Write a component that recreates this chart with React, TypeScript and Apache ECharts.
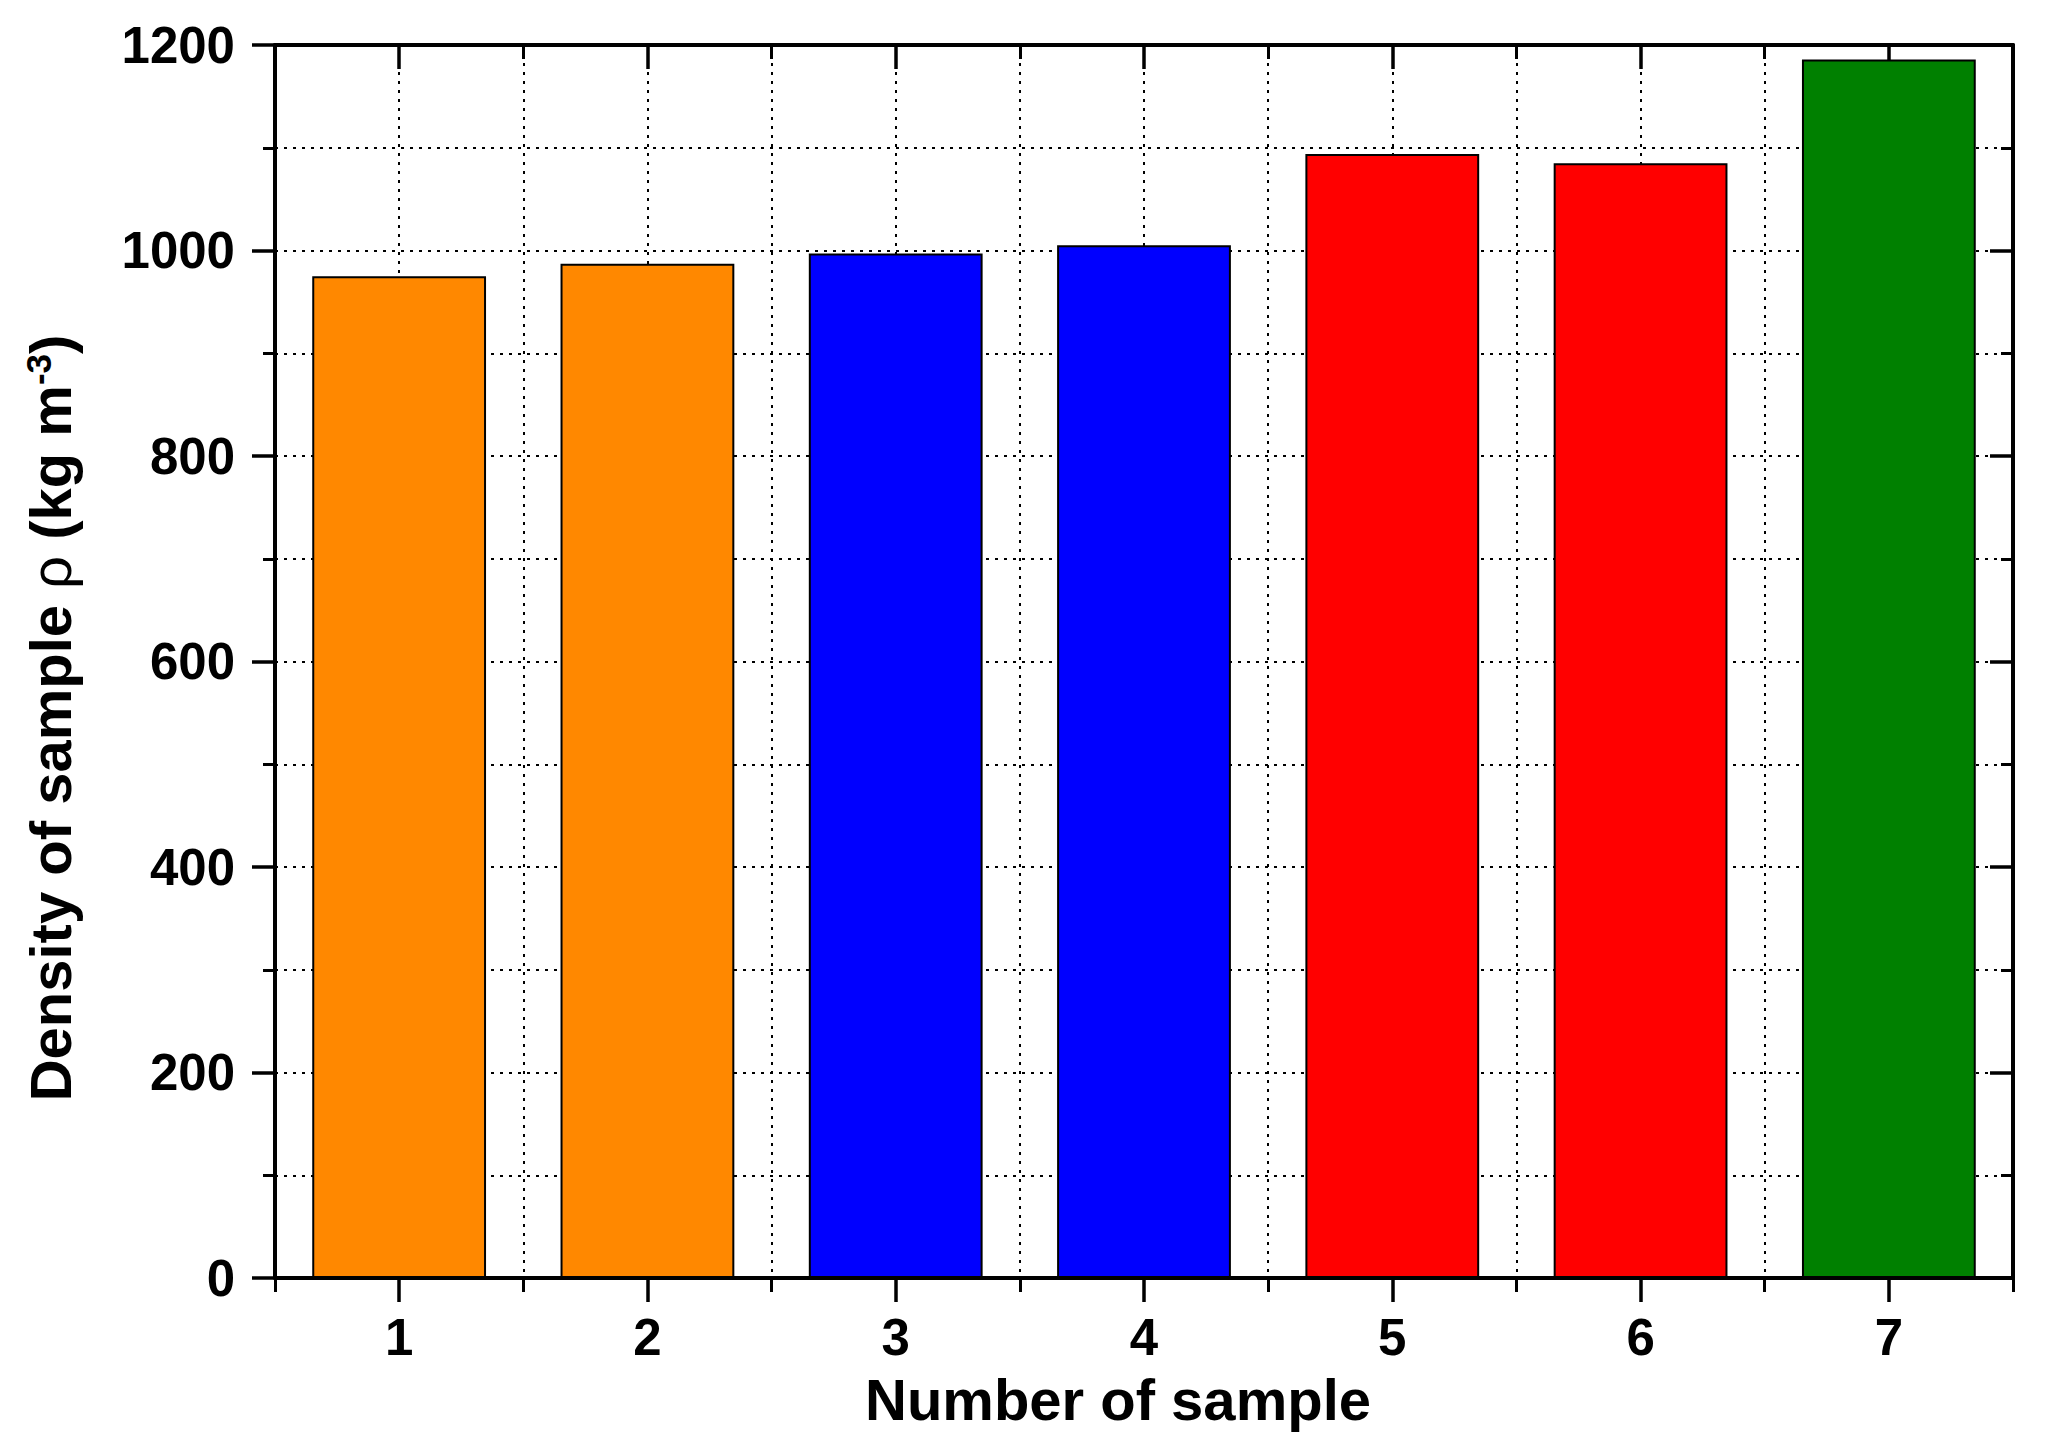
import React, { useEffect, useRef } from "react";
import * as echarts from "echarts";

const categories = ["1", "2", "3", "4", "5", "6", "7"];
const densities = [975, 987, 997, 1005, 1094, 1085, 1186];
const barColors = ["#FF8800", "#FF8800", "#0000FF", "#0000FF", "#FF0000", "#FF0000", "#008000"];
const yMin = 0;
const yMax = 1200;
const yInterval = 200;
const xTitle = "Number of sample";

const FONT = "'Liberation Sans', Arial, sans-serif";
const dotted = { color: "#000", width: 2, type: [3, 6] as any };

export default function App() {
  const ref = useRef<HTMLDivElement>(null);
  useEffect(() => {
    if (!ref.current) return;
    const chart = echarts.init(ref.current, undefined, { renderer: "svg" });
    const catAxisBase = {
      type: "category",
      data: categories,
      boundaryGap: true,
      axisLabel: { show: false },
      splitLine: { show: false },
    };
    chart.setOption({
      animation: false,
      backgroundColor: "#fff",
      grid: { left: 275, right: 35, top: 45, bottom: 173, containLabel: false },
      xAxis: [
        {
          ...catAxisBase,
          position: "bottom",
          name: xTitle,
          nameLocation: "middle",
          nameGap: 92,
          nameTextStyle: {
            fontFamily: FONT,
            fontWeight: "bold",
            fontSize: 58,
            color: "#000",
            padding: [0, 52, 0, 0],
          },
          axisLine: { show: true, lineStyle: { color: "#000", width: 4 } },
          axisTick: { show: true, alignWithLabel: true, length: 24, lineStyle: { color: "#000", width: 3.5 } },
          axisLabel: { show: true, fontFamily: FONT, fontWeight: "bold", fontSize: 51, color: "#000", margin: 34 },
        },
        {
          ...catAxisBase,
          position: "bottom",
          axisLine: { show: false },
          axisTick: { show: true, alignWithLabel: false, length: 14, lineStyle: { color: "#000", width: 3 } },
        },
        {
          ...catAxisBase,
          position: "top",
          axisLine: { show: true, lineStyle: { color: "#000", width: 4 } },
          axisTick: { show: true, inside: true, alignWithLabel: true, length: 24, lineStyle: { color: "#000", width: 3.5 } },
        },
        {
          ...catAxisBase,
          position: "top",
          axisLine: { show: false },
          axisTick: { show: true, inside: true, alignWithLabel: false, length: 14, lineStyle: { color: "#000", width: 3 } },
        },
        {
          type: "value",
          position: "bottom",
          min: 0,
          max: categories.length * 2,
          interval: 1,
          axisLine: { show: false },
          axisTick: { show: false },
          axisLabel: { show: false },
          splitLine: { show: true, lineStyle: dotted },
        },
      ],
      yAxis: [
        {
          type: "value",
          position: "left",
          min: yMin,
          max: yMax,
          interval: yInterval,
          axisLine: { show: true, lineStyle: { color: "#000", width: 4 } },
          axisTick: { show: true, length: 23, lineStyle: { color: "#000", width: 3.5 } },
          minorTick: { show: true, splitNumber: 2, length: 12, lineStyle: { color: "#000", width: 3 } },
          axisLabel: {
            show: true,
            fontFamily: FONT,
            fontWeight: "bold",
            fontSize: 51,
            color: "#000",
            margin: 40,
            formatter: (v: number) => String(v),
          },
          splitLine: { show: true, lineStyle: dotted },
          minorSplitLine: { show: true, lineStyle: dotted },
        },
        {
          type: "value",
          position: "right",
          min: yMin,
          max: yMax,
          interval: yInterval,
          axisLine: { show: true, lineStyle: { color: "#000", width: 4 } },
          axisTick: { show: true, inside: true, length: 23, lineStyle: { color: "#000", width: 3.5 } },
          minorTick: { show: true, splitNumber: 2, length: 12, lineStyle: { color: "#000", width: 3 } },
          axisLabel: { show: false },
          splitLine: { show: false },
        },
      ],
      series: [
        {
          type: "bar",
          xAxisIndex: 0,
          yAxisIndex: 0,
          barCategoryGap: "30%",
          data: densities.map((v, i) => ({
            value: v,
            itemStyle: { color: barColors[i], borderColor: "#000", borderWidth: 2 },
          })),
        },
      ],
      graphic: [
        {
          type: "text",
          x: 50,
          y: 718,
          rotation: Math.PI / 2,
          style: {
            text: "{b|Density of sample }{r|ρ}{b| (kg m}{s|-3}{b|)}",
            align: "center",
            verticalAlign: "middle",
            fill: "#000",
            rich: {
              b: { fontFamily: FONT, fontWeight: "bold", fontSize: 58, fill: "#000" },
              r: { fontFamily: FONT, fontWeight: "normal", fontSize: 58, fill: "#000" },
              s: { fontFamily: FONT, fontWeight: "bold", fontSize: 35, fill: "#000", verticalAlign: "top" },
            },
          },
        },
      ],
    });
    return () => chart.dispose();
  }, []);
  return (
    <div
      ref={ref}
      style={{ position: "fixed", left: 0, top: 0, width: 2048, height: 1451, background: "#fff" }}
    />
  );
}
